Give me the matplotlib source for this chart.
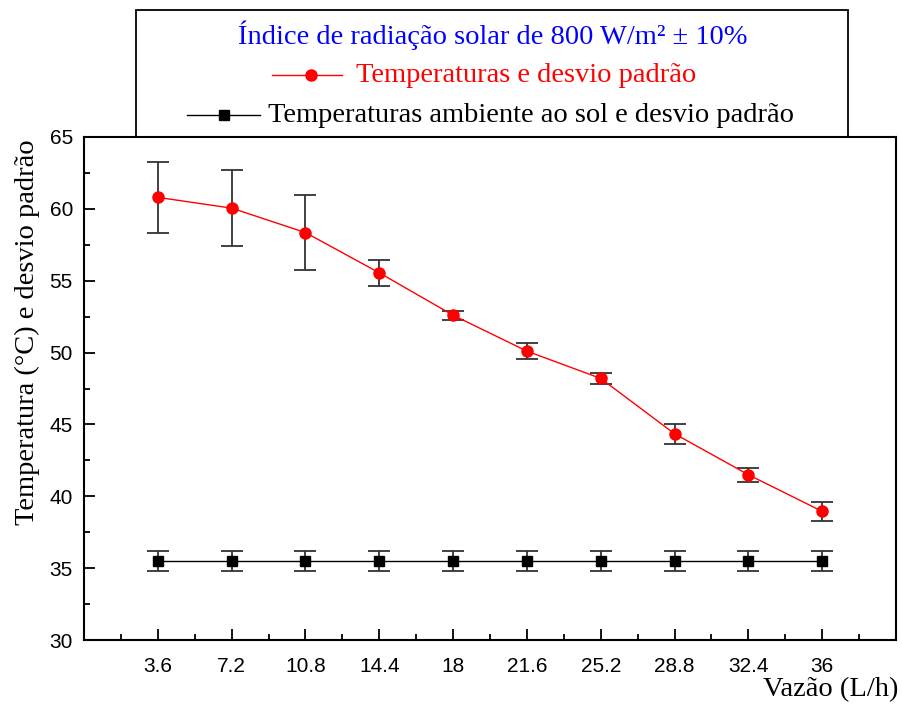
import numpy as np
import matplotlib.pyplot as plt
from matplotlib.lines import Line2D
from matplotlib.patches import Rectangle
from matplotlib.ticker import MultipleLocator

# flow rates (L/h) and temperatures (°C)
vazao = ['3.6', '7.2', '10.8', '14.4', '18', '21.6', '25.2', '28.8', '32.4', '36']
temp_coletor = [60.8, 60.05, 58.35, 55.55, 52.6, 50.1, 48.2, 44.35, 41.5, 38.95]
desvio_coletor = [2.45, 2.65, 2.6, 0.9, 0.3, 0.55, 0.4, 0.7, 0.5, 0.65]
temp_ambiente = [35.5] * 10
desvio_ambiente = [0.7] * 10

W, H = 903, 708
fig = plt.figure(figsize=(W / 100, H / 100), dpi=100)


def fx(px):
    return px / W


def fy(py):
    return 1 - py / H


ax = fig.add_axes([fx(84), fy(640), fx(896) - fx(84), fy(137) - fy(640)])
x = np.arange(1, len(vazao) + 1)

ax.errorbar(x, temp_coletor, yerr=desvio_coletor, color='red', lw=1,
            marker='o', ms=8, mec='red', ecolor='#333333', elinewidth=1.3,
            capsize=8, capthick=1.3, zorder=3)
ax.errorbar(x, temp_ambiente, yerr=desvio_ambiente, color='black', lw=1,
            marker='s', ms=7.5, mec='black', ecolor='#333333', elinewidth=1.3,
            capsize=8, capthick=1.3, zorder=3)

ax.set_xlim(0, 11)
ax.set_ylim(30, 65)
ax.set_xticks(x)
ax.set_xticklabels(vazao)
ax.xaxis.set_minor_locator(MultipleLocator(0.5))
ax.yaxis.set_major_locator(MultipleLocator(5))
ax.yaxis.set_minor_locator(MultipleLocator(2.5))
ax.tick_params(which='both', direction='in', top=False, right=False, width=1.3)
ax.tick_params(which='major', length=8)
ax.tick_params(which='minor', length=4)
ax.tick_params(axis='x', labelsize=15, pad=12)
ax.tick_params(axis='y', labelsize=15, pad=8)
for lab in ax.get_xticklabels() + ax.get_yticklabels():
    lab.set_family('Liberation Sans')
for sp in ax.spines.values():
    sp.set_linewidth(1.5)

serif = 'Liberation Serif'
fs = 20.5
fig.text(fx(27), fy(332), 'Temperatura (\u00b0C) e desvio padr\u00e3o', rotation=90,
         ha='center', va='center', family=serif, fontsize=fs)
fig.text(fx(898), fy(690), 'Vaz\u00e3o (L/h)', ha='right', va='center',
         family=serif, fontsize=fs)

# legend box on top of the axes
fig.patches.append(Rectangle((fx(136), fy(137)), fx(848) - fx(136), fy(10) - fy(137),
                             transform=fig.transFigure, fill=False, ec='black', lw=1.3))
fig.text(fx(493), fy(35), '\u00cdndice de radia\u00e7\u00e3o solar de 800 W/m\u00b2 \u00b1 10%',
         ha='center', va='center', color='blue', family=serif, fontsize=fs)
fig.lines.append(Line2D([fx(272), fx(342)], [fy(75), fy(75)], transform=fig.transFigure,
                        color='red', lw=1))
fig.lines.append(Line2D([fx(311)], [fy(75)], transform=fig.transFigure,
                        color='red', marker='o', ms=8, ls='none'))
fig.text(fx(356), fy(75), 'Temperaturas e desvio padr\u00e3o', ha='left', va='center',
         color='red', family=serif, fontsize=fs)
fig.lines.append(Line2D([fx(187), fx(260)], [fy(115), fy(115)], transform=fig.transFigure,
                        color='black', lw=1))
fig.lines.append(Line2D([fx(224)], [fy(115)], transform=fig.transFigure,
                        color='black', marker='s', ms=7.5, ls='none'))
fig.text(fx(268), fy(115), 'Temperaturas ambiente ao sol e desvio padr\u00e3o', ha='left',
         va='center', color='black', family=serif, fontsize=fs)

fig.savefig('out.png', dpi=100)
